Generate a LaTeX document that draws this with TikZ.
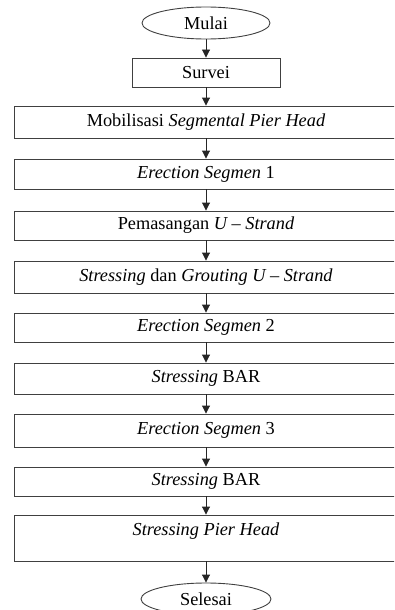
\documentclass[tikz,border=0pt]{standalone}
\usepackage{fontspec}
\setmainfont{Liberation Serif}
\usetikzlibrary{shapes.geometric,arrows.meta}

\tikzset{
  stepbox/.style={draw=black!75, line width=0.9pt, minimum width=384pt, minimum height=31pt, inner sep=0pt, align=center},
  endbox/.style={ellipse, draw=black!75, line width=0.9pt, minimum width=128pt, minimum height=32pt, inner sep=0pt},
  flow/.style={draw=black!85, line width=0.9pt, -{Triangle[width=8pt,length=8pt]}}
}

\begin{document}
\begin{tikzpicture}[x=1pt, y=-1pt, font=\fontsize{18.3}{21}\selectfont]

	\useasboundingbox (0,0) rectangle (394,610);
	\clip (0,0) rectangle (394,610);

	% Start and first step
	\node[endbox] (mulai) at (206,23) {Mulai};
	\node[stepbox, minimum width=148pt, minimum height=29pt] (survei) at (206,72.5) {Survei};

	% Main steps
	\node[stepbox, minimum height=32pt] (mobil) at (206,122) {Mobilisasi \textit{Segmental Pier Head}};
	\node[stepbox, minimum height=30pt] (erect1) at (206,174) {\textit{Erection Segmen} 1};
	\node[stepbox, minimum height=29pt] (pasang) at (206,225.5) {Pemasangan \textit{U -- Strand}};
	\node[stepbox, minimum height=32pt] (grout) at (206,277) {\textit{Stressing} dan \textit{Grouting U -- Strand}};
	\node[stepbox, minimum height=29pt] (erect2) at (206,327.5) {\textit{Erection Segmen} 2};
	\node[stepbox] (bar1) at (206,378.5) {\textit{Stressing} BAR};
	\node[stepbox, minimum height=33pt] (erect3) at (206,430.5) {\textit{Erection Segmen} 3};
	\node[stepbox, minimum height=29pt] (bar2) at (206,481.5) {\textit{Stressing} BAR};
	\node[stepbox, minimum height=46pt] (pier) at (206,538) {\textit{Stressing Pier Head}\\[-3pt]~};

	% End
	\node[endbox, minimum width=130pt] (selesai) at (206,599) {Selesai};

	% Arrows
	\draw[flow] (mulai) -- (survei);
	\draw[flow] (survei) -- (mobil);
	\draw[flow] (mobil) -- (erect1);
	\draw[flow] (erect1) -- (pasang);
	\draw[flow] (pasang) -- (grout);
	\draw[flow] (grout) -- (erect2);
	\draw[flow] (erect2) -- (bar1);
	\draw[flow] (bar1) -- (erect3);
	\draw[flow] (erect3) -- (bar2);
	\draw[flow] (bar2) -- (pier);
	\draw[flow] (pier) -- (selesai);

\end{tikzpicture}
\end{document}
